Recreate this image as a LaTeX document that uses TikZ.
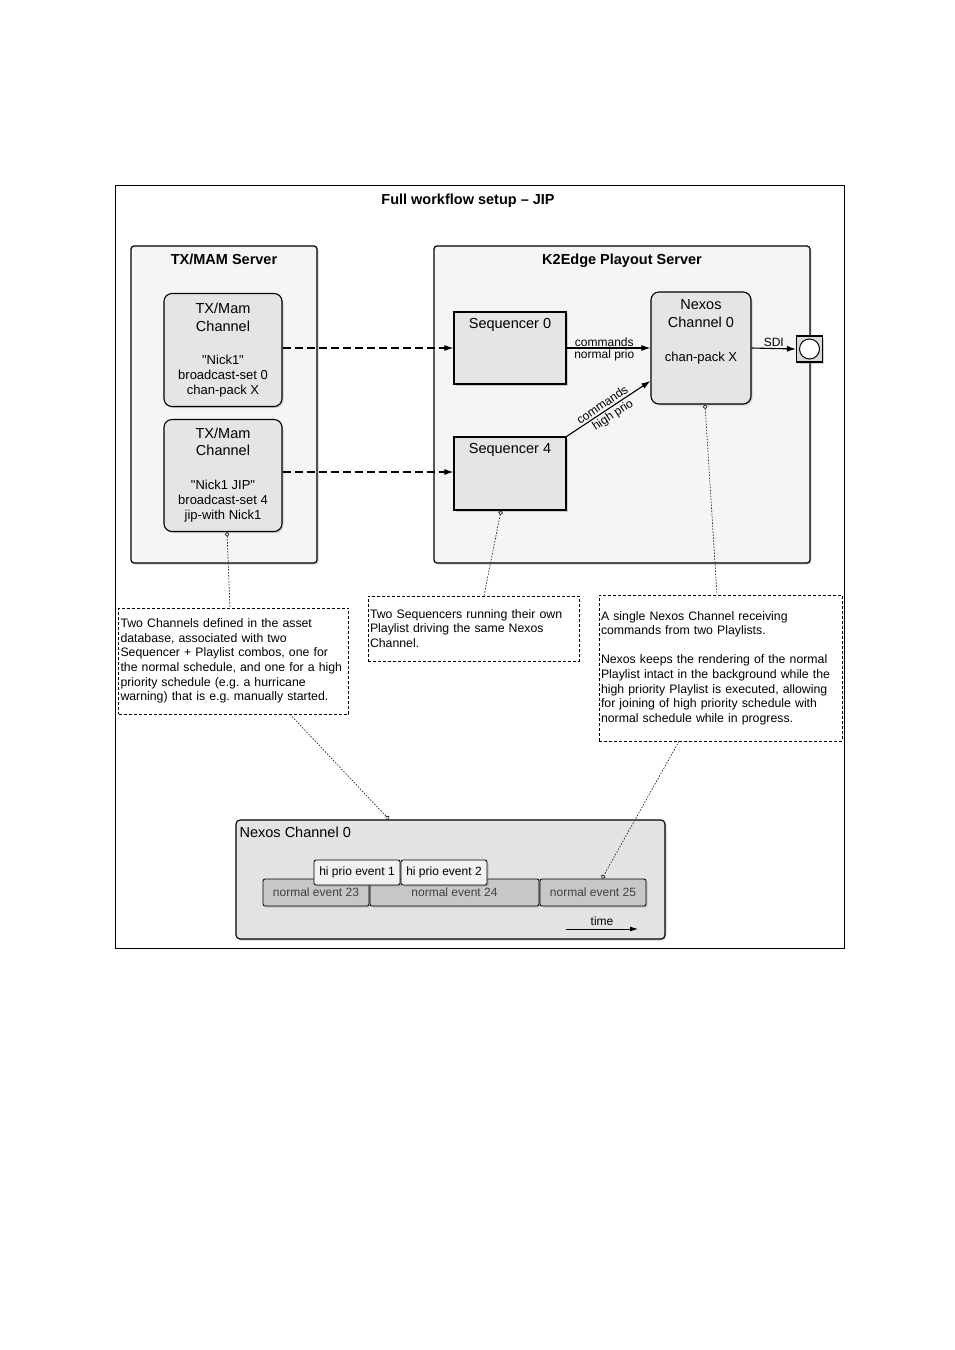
\documentclass[tikz,border=0pt]{standalone}
\usepackage{fontspec}
\setmainfont{Liberation Sans}[Ligatures=TeXOff]
\usetikzlibrary{positioning,shadows,arrows.meta}
\newcommand{\hdfont}{\fontsize{14.5}{17}\selectfont}
\newcommand{\detfont}{\fontsize{13}{15}\selectfont}
\newcommand{\ntfont}{\fontsize{12.3}{14.6}\selectfont\frenchspacing}
\newcommand{\smfont}{\fontsize{12}{14}\selectfont}
\tikzset{shade box/.style={drop shadow={opacity=.35,shadow xshift=1.5pt,shadow yshift=-1.5pt}}}
\tikzset{server/.style={draw,line width=1.2pt,rounded corners=3pt,fill=black!4,shade box}}
\tikzset{chanbox/.style={draw,line width=1.1pt,rounded corners=8pt,fill=black!10,shade box,align=center,font=\detfont}}
\tikzset{seqbox/.style={draw,line width=1.1pt,fill=black!10,shade box}}
\tikzset{boxtitle/.style={anchor=north,inner sep=0pt,font=\bfseries\hdfont}}
\tikzset{boxhead/.style={anchor=north,inner sep=0pt,align=center,font=\hdfont}}
\tikzset{notebox/.style={draw,dash pattern=on 3pt off 2pt,line width=0.6pt,align=left,inner xsep=2pt,font=\ntfont}}
\tikzset{evnormal/.style={draw,line width=0.8pt,rounded corners=2pt,fill=black!22,minimum height=27pt,inner sep=0pt,font=\smfont,text=black!75,shade box}}
\tikzset{evhigh/.style={draw,line width=0.8pt,rounded corners=2pt,fill=black!5,minimum height=25pt,inner sep=0pt,font=\smfont,shade box}}
\tikzset{feed/.style={-{Latex[length=9pt,width=6pt]},line width=1.2pt,dash pattern=on 8pt off 4pt}}
\tikzset{cmd/.style={-{Latex[length=9pt,width=6pt]},line width=1.1pt}}
\tikzset{cmdlabel/.style={inner sep=1pt,font=\smfont}}
\tikzset{leader/.style={dash pattern=on 1.5pt off 1.5pt,line width=0.7pt,black!85}}
\begin{document}
\begin{tikzpicture}[x=1pt,y=-1pt]
  \useasboundingbox (0,0) rectangle (955,1350);
  \draw[line width=0.8pt] (115,185) rectangle (844,948);
  \node[font=\bfseries\hdfont] (title) at (468,201) {Full workflow setup – JIP};

  % servers
  \node[server,minimum width=186pt,minimum height=317pt,
    label={[boxtitle,yshift=-8pt]north:TX/MAM Server}] (txmam) at (224,404.5) {};
  \node[server,minimum width=376pt,minimum height=317pt,
    label={[boxtitle,yshift=-8pt]north:K2Edge Playout Server}] (k2edge) at (622,404.5) {};

  % TX/Mam channels
  \node[chanbox,minimum width=118pt,minimum height=113pt] (ch1) at (223,350)
    {{\hdfont TX/Mam}\\[3pt]{\hdfont Channel}\\[18pt]"Nick1"\\broadcast-set 0\\chan-pack X};
  \node[chanbox,minimum width=118pt,minimum height=112pt] (ch2) at (223,475.5)
    {{\hdfont TX/Mam}\\[2pt]{\hdfont Channel}\\[19pt]"Nick1 JIP"\\broadcast-set 4\\jip-with Nick1};

  % sequencers and nexos
  \node[seqbox,minimum width=112pt,minimum height=72pt,
    label={[boxhead,yshift=-7pt]north:Sequencer 0}] (seq0) at (510,348) {};
  \node[seqbox,minimum width=112pt,minimum height=73pt,
    label={[boxhead,yshift=-7pt]north:Sequencer 4}] (seq4) at (510,473.5) {};
  \node[chanbox,minimum width=100pt,minimum height=112pt,
    label={[boxhead,font=\detfont,yshift=-8pt]north:{{\hdfont Nexos}\\[3pt]{\hdfont Channel 0}\\[19pt]chan-pack X}}] (nexos) at (701,348) {};
  \node[seqbox,fill=black!15,minimum size=26pt,inner sep=0pt] (sdi) at (809.5,349) {};
  \node[draw,circle,line width=1pt,fill=white,minimum size=20pt,inner sep=0pt] (sdijack) at (sdi.center) {};

  % connections
  \draw[feed] ([yshift=2pt]ch1.east) -- (seq0.west);
  \draw[feed] ([yshift=3.5pt]ch2.east) -- ([yshift=1.5pt]seq4.west);
  \draw[cmd] (seq0.east) -- node[pos=.45,above,cmdlabel] {commands}
    node[pos=.45,below,cmdlabel] {normal prio} (nexos.west);
  \draw[cmd] (seq4.north east) -- node[pos=.47,sloped,above,cmdlabel,inner sep=2pt] {commands}
    node[pos=.5,sloped,below,cmdlabel,inner sep=2pt] {high prio} ([yshift=-33pt]nexos.west);
  \draw[cmd] (nexos.east) -- node[above,cmdlabel] {SDI} (sdi.west);

  % notes
  \node[notebox,text width=226pt,minimum height=106pt] (note1) at (233.5,661)
    {Two Channels defined in the asset\\database, associated with two\\Sequencer + Playlist combos, one for\\the normal schedule, and one for a high\\priority schedule (e.g. a hurricane\\warning) that is e.g. manually started.};
  \node[notebox,text width=207pt,minimum height=65pt] (note2) at (473.5,628.5)
    {Two Sequencers running their own\\Playlist driving the same Nexos\\Channel.};
  \node[notebox,text width=239pt,minimum height=146pt] (note3) at (720.5,668)
    {A single Nexos Channel receiving\\commands from two Playlists.\\[14.6pt]Nexos keeps the rendering of the normal\\Playlist intact in the background while the\\high priority Playlist is executed, allowing\\for joining of high priority schedule with\\normal schedule while in progress.};

  % timeline
  \node[chanbox,rounded corners=4pt,fill=black!11,minimum width=429pt,minimum height=119pt,
    label={[anchor=north west,inner sep=0pt,font=\hdfont,xshift=4pt,yshift=-7pt]north west:Nexos Channel 0}] (tline) at (450.5,879.5) {};
  \node[evnormal,minimum width=106pt] (ev23) at (316,892.5) {normal event 23};
  \node[evnormal,minimum width=169pt] (ev24) at (454.5,892.5) {normal event 24};
  \node[evnormal,minimum width=106pt] (ev25) at (593,892.5) {normal event 25};
  \node[evhigh,minimum width=86pt] (hi1) at (357,872.5) {hi prio event 1};
  \node[evhigh,minimum width=86pt] (hi2) at (444,872.5) {hi prio event 2};
  \coordinate (tstart) at (566,929);
  \coordinate (tend) at (638,929);
  \draw[-{Latex[length=8pt,width=5pt]},line width=0.8pt] (tstart) -- node[above,inner sep=2.5pt,font=\smfont] {time} (tend);

  % leader lines
  \draw[leader,{Circle[open,length=4.5pt]}-] ([xshift=4pt]ch2.south) -- ([xshift=-3.5pt]note1.north);
  \draw[leader,{Circle[open,length=4.5pt]}-] ([xshift=-9pt]seq4.south) -- ([xshift=10.5pt]note2.north);
  \draw[leader,{Circle[open,length=4.5pt]}-] ([xshift=4pt]nexos.south) -- ([xshift=-3.5pt]note3.north);
  \draw[leader,-{Circle[open,length=4.5pt]}] ([xshift=56.5pt]note1.south) -- ([xshift=-61.5pt]tline.north);
  \draw[leader,-{Circle[open,length=4.5pt]}] ([xshift=-41.5pt]note3.south) -- ([xshift=9pt]ev25.north);
\end{tikzpicture}
\end{document}
